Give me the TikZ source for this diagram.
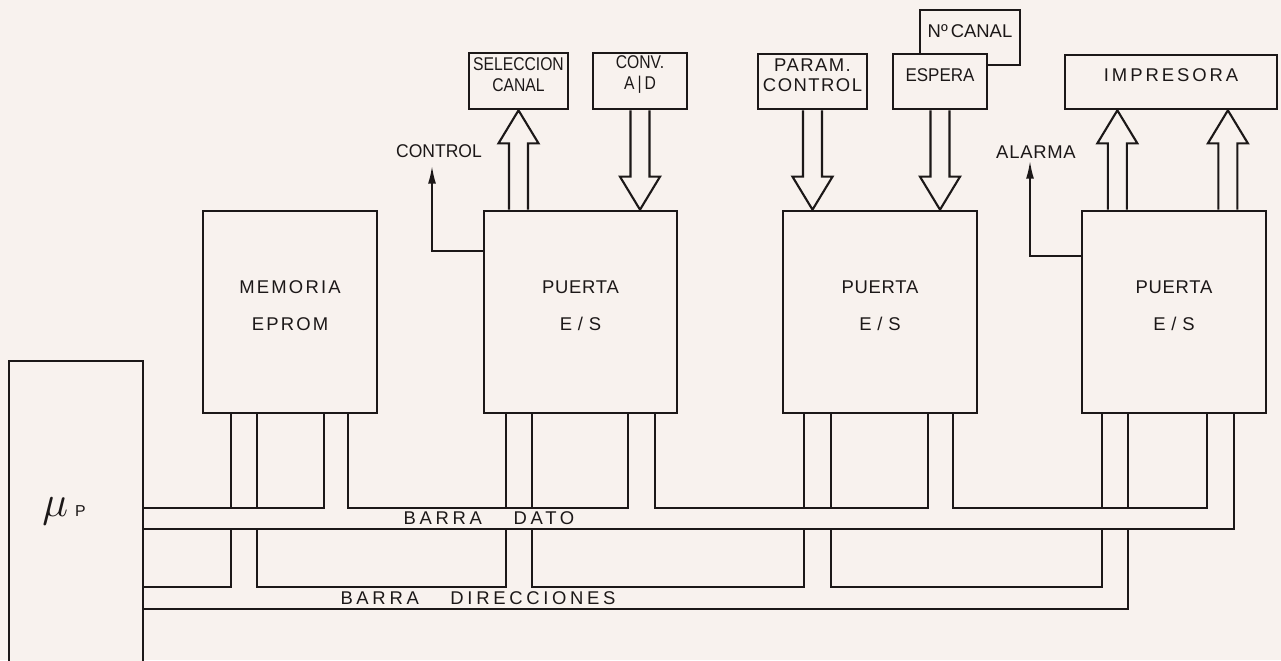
\documentclass[tikz,border=0pt]{standalone}
\usepackage{fontspec}
\setmainfont{Liberation Sans}
\usetikzlibrary{calc, fit, arrows.meta}

\definecolor{papel}{RGB}{248,242,238}
\definecolor{tinta}{RGB}{28,24,24}

% flecha hueca (barra ancha) desde #1 hasta la punta #2
\newcommand{\flechahueca}[2]{%
  \coordinate (fh) at ($(#2)!0.66cm!(#1)$);
  \draw[hueca] ($(#1)!0.19cm!90:(#2)$) -- ($(fh)!0.19cm!90:(#2)$)
    -- ($(fh)!0.4cm!90:(#2)$) -- (#2) -- ($(fh)!0.4cm!-90:(#2)$)
    -- ($(fh)!0.19cm!-90:(#2)$) -- ($(#1)!0.19cm!-90:(#2)$);
}

\begin{document}
\begin{tikzpicture}[x=0.02cm, y=-0.02cm,
    caja/.style={draw=tinta, line width=1.5pt, fill=papel, inner sep=0pt, align=center, text=tinta},
    grande/.style={caja, font=\fontsize{10.5}{21}\selectfont\addfontfeature{#1}},
    chica/.style={caja, font=\fontsize{10.5}{11.5}\selectfont\addfontfeature{#1}},
    rotulo/.style={text=tinta, inner sep=0pt, font=\fontsize{10.5}{12}\selectfont\addfontfeature{#1}},
    bus/.style={draw=tinta, line width=1pt},
    sig/.style={draw=tinta, line width=1pt, -{Latex[length=10pt,width=4.5pt]}},
    hueca/.style={draw=tinta, line width=1.2pt, line join=miter}]

    % --- 1. fondo y marco de la figura ---
    \fill[papel] (0,0) rectangle (1281,660);
    \useasboundingbox (0,0) rectangle (1281,660);

    % --- 2. microprocesador, memoria y puertas ---
    \node[caja, fit={(9,361) (143,668)}] (up) {};
    \node[text=tinta, anchor=base west, inner sep=0pt] (uplbl) at (42,516)
        {\fontsize{24}{24}\selectfont$\mu$\,\fontsize{9}{9}\selectfont P};
    \node[grande={LetterSpace=12}, fit={(203,211) (377,413)}] (mem) {MEMORIA\\EPROM};
    \node[grande={LetterSpace=4}, fit={(484,211) (677,413)}] (pe1) {PUERTA\\E / S};
    \node[grande={LetterSpace=4}, fit={(783,211) (977,413)}] (pe2) {PUERTA\\E / S};
    \node[grande={LetterSpace=4}, fit={(1082,211) (1266,413)}] (pe3) {PUERTA\\E / S};

    % --- 3. perifericos ---
    \node[chica={FakeStretch=0.85}, fit={(469,53) (568,109)}] (selcan) {SELECCION\\CANAL};
    \node[chica={FakeStretch=0.85}, fit={(593,53) (687,109)}] (conv) {CONV.\\A\,|\,D};
    \node[chica={LetterSpace=8}, fit={(758,54) (867,109)}] (param) {PARAM.\\CONTROL};
    \node[chica={LetterSpace=0}, fit={(920,10) (1020,65)}] (ncanal) {Nº\,CANAL};
    \node[chica={FakeStretch=0.92}, fit={(893,54) (987,109)}] (espera) {ESPERA};
    \node[chica={LetterSpace=16}, fit={(1065,55) (1277,109)}] (imp) {IMPRESORA};

    % --- 4. flechas huecas ---
    \coordinate (a1) at (selcan.south |- pe1.north);
    \flechahueca{a1}{selcan.south}
    \coordinate (a2) at (conv.south |- pe1.north);
    \flechahueca{conv.south}{a2}
    \coordinate (a3) at (param.south |- pe2.north);
    \flechahueca{param.south}{a3}
    \coordinate (a4) at (espera.south |- pe2.north);
    \flechahueca{espera.south}{a4}
    \coordinate (i1) at ($(imp.south west)!0.25!(imp.south east)$);
    \coordinate (i2) at ($(imp.south west)!0.765!(imp.south east)$);
    \coordinate (a5) at (i1 |- pe3.north);
    \flechahueca{a5}{i1}
    \coordinate (a6) at (i2 |- pe3.north);
    \flechahueca{a6}{i2}

    % --- 5. senales de control y alarma ---
    \node[rotulo={FakeStretch=0.95}] (ctl) at (439,151) {CONTROL};
    \node[rotulo={LetterSpace=4}] (ala) at (1036,152) {ALARMA};
    \coordinate (ctlpunta) at (432,166);
    \coordinate (alapunta) at (1030,161);
    \draw[sig] ($(pe1.north west)+(0,41)$) -| (ctlpunta);
    \draw[sig] ($(pe3.north west)+(0,46)$) -| (alapunta);

    % --- 6. barra de datos ---
    \draw[bus] (up.east |- 0,508) -- (324,508) -- (324,0 |- mem.south);
    \draw[bus] (348,0 |- mem.south) -- (348,508) -- (628,508) -- (628,0 |- pe1.south);
    \draw[bus] (655,0 |- pe1.south) -- (655,508) -- (928,508) -- (928,0 |- pe2.south);
    \draw[bus] (953,0 |- pe2.south) -- (953,508) -- (1207,508) -- (1207,0 |- pe3.south);
    \draw[bus] (up.east |- 0,529) -- (1234,529) -- (1234,0 |- pe3.south);

    % --- 7. barra de direcciones ---
    \foreach \x in {231,257,506,532,804,831,1102,1128}
        \draw[bus] (\x,0 |- mem.south) -- (\x,508);
    \draw[bus] (up.east |- 0,587) -- (231,587) -- (231,529);
    \draw[bus] (257,529) -- (257,587) -- (506,587) -- (506,529);
    \draw[bus] (532,529) -- (532,587) -- (804,587) -- (804,529);
    \draw[bus] (831,529) -- (831,587) -- (1102,587) -- (1102,529);
    \draw[bus] (up.east |- 0,609) -- (1128,609) -- (1128,529);

    \node[rotulo={LetterSpace=20}] (bdato) at (489,518) {BARRA\hspace{18pt}DATO};
    \node[rotulo={LetterSpace=20}] (bdir) at (478,598) {BARRA\hspace{18pt}DIRECCIONES};
\end{tikzpicture}
\end{document}
